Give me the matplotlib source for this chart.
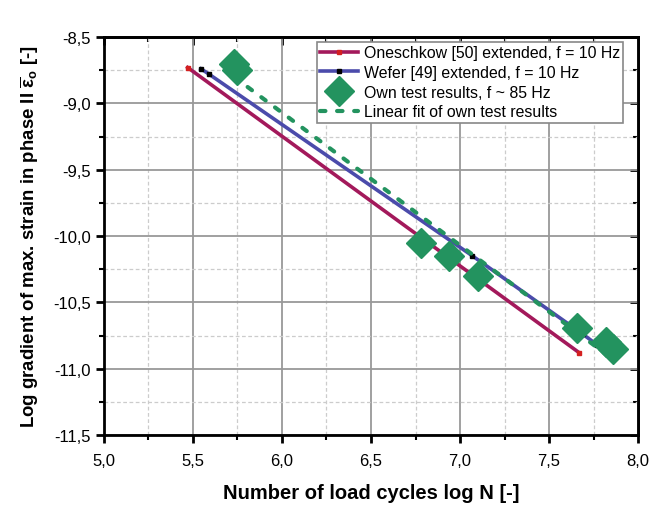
import numpy as np
import matplotlib.pyplot as plt
from matplotlib.ticker import MultipleLocator, FuncFormatter

plt.rcParams['font.family'] = ['Liberation Sans', 'DejaVu Sans']
plt.rcParams['mathtext.fontset'] = 'custom'
plt.rcParams['mathtext.rm'] = 'Liberation Sans'
plt.rcParams['mathtext.bf'] = 'Liberation Sans:bold'

# data
onesch_x = [5.47, 7.67]
onesch_y = [-8.73, -10.88]
wefer_x = [5.545, 5.59, 7.07, 7.69, 7.77]
wefer_y = [-8.74, -8.78, -10.15, -10.74, -10.82]
own_x = [5.73, 5.75, 6.78, 6.94, 7.10, 7.66, 7.82, 7.86]
own_y = [-8.70, -8.75, -10.05, -10.15, -10.30, -10.69, -10.80, -10.85]
fit_x = [5.73, 7.85]
fit_y = [-8.80, -10.92]

labels = ['Oneschkow [50] extended, f = 10 Hz',
          'Wefer [49] extended, f = 10 Hz',
          'Own test results, f ~ 85 Hz',
          'Linear fit of own test results']

c_onesch = '#A3195B'
c_wefer = '#4B4BAB'
c_own = '#23935F'

def comma(v, pos):
    return f'{v:.1f}'.replace('.', ',')

fig = plt.figure(figsize=(6.56, 5.06), dpi=100)
ax = fig.add_axes([0.1585, 0.1383, 0.8141, 0.7866])

ax.plot(onesch_x, onesch_y, color=c_onesch, lw=2.6, marker='s', ms=3,
        mfc='#D42020', mec='#D42020', label=labels[0], zorder=3)
ax.plot(wefer_x, wefer_y, color=c_wefer, lw=2.6, marker='s', ms=3,
        mfc='black', mec='black', label=labels[1], zorder=3)
ax.plot(own_x, own_y, ls='none', marker='D', ms=15, color=c_own,
        mec=c_own, label=labels[2], zorder=4)
ax.plot(fit_x, fit_y, color=c_own, lw=3, dashes=(1.3, 2.8),
        dash_capstyle='round', label=labels[3], zorder=3)

ax.set_xlim(5.0, 8.0)
ax.set_ylim(-11.5, -8.5)
ax.xaxis.set_major_locator(MultipleLocator(0.5))
ax.xaxis.set_minor_locator(MultipleLocator(0.25))
ax.yaxis.set_major_locator(MultipleLocator(0.5))
ax.yaxis.set_minor_locator(MultipleLocator(0.25))
ax.xaxis.set_major_formatter(FuncFormatter(comma))
ax.yaxis.set_major_formatter(FuncFormatter(comma))

ax.grid(which='major', color='#999999', lw=1.3, ls='-')
ax.grid(which='minor', color='#cccccc', lw=0.9, ls=(0, (3, 2)))
ax.set_axisbelow(True)

for s in ax.spines.values():
    s.set_linewidth(2)
ax.tick_params(which='major', direction='out', length=6, width=2, labelsize=12)
ax.tick_params(axis='x', which='major', pad=7)
ax.tick_params(which='minor', direction='out', length=3.5, width=1.5)

# inward ticks on top and right
top = ax.secondary_xaxis('top')
top.xaxis.set_major_locator(MultipleLocator(0.5))
top.xaxis.set_minor_locator(MultipleLocator(0.25))
top.tick_params(which='major', direction='in', length=6, width=2, labeltop=False)
top.tick_params(which='minor', direction='in', length=3.5, width=1.5)
right = ax.secondary_yaxis('right')
right.yaxis.set_major_locator(MultipleLocator(0.5))
right.yaxis.set_minor_locator(MultipleLocator(0.25))
right.tick_params(which='major', direction='in', length=6, width=2, labelright=False)
right.tick_params(which='minor', direction='in', length=3.5, width=1.5)
for sec in (top, right):
    for s in sec.spines.values():
        s.set_linewidth(2)

ax.set_xlabel('Number of load cycles log N [-]', fontsize=14.5, fontweight='bold', labelpad=11)
ax.set_ylabel(r'Log gradient of max. strain in phase II $\overline{\mathbf{ε}}_\mathbf{o}$ [-]',
              fontsize=13.4, fontweight='bold', labelpad=9)

leg = ax.legend(loc='upper right', bbox_to_anchor=(0.972, 0.9875), borderaxespad=0,
                fontsize=11.4, frameon=True, fancybox=False, framealpha=1,
                edgecolor='#888888', borderpad=0.2, labelspacing=0.3,
                handlelength=2.4, handletextpad=0.35)
leg.get_frame().set_linewidth(1.2)

fig.savefig('out.png', dpi=100)
